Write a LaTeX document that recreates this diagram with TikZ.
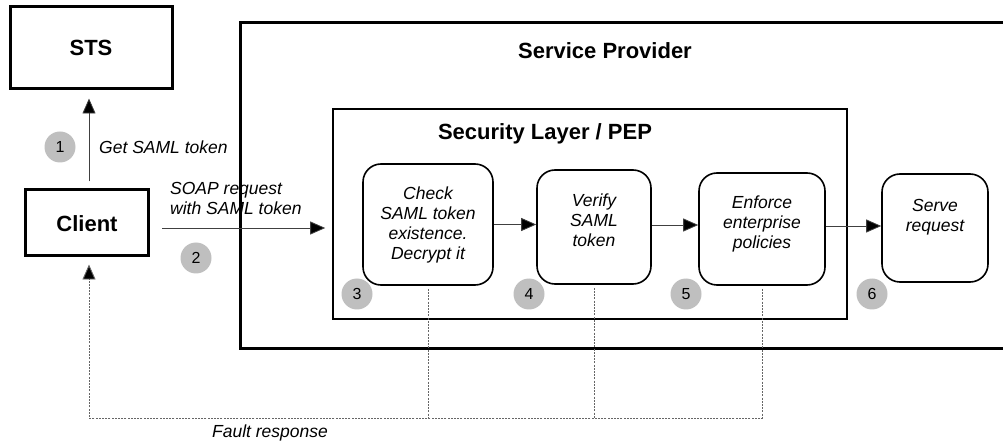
\documentclass[tikz,border=0pt]{standalone}
\usepackage{fontspec}
\setmainfont{Liberation Sans}
\usetikzlibrary{arrows.meta,calc}
\tikzset{
  thickbox/.style={draw,line width=3pt,inner sep=0pt},
  procbox/.style={draw,line width=1.6pt,rounded corners=18pt,inner sep=0pt},
  boldlbl/.style={font=\fontsize{22}{26}\selectfont\bfseries,inner sep=0pt},
  itlbl/.style={font=\fontsize{17.5}{20}\selectfont\itshape,inner sep=0pt,align=center},
  numc/.style={circle,fill=black!25,minimum size=31pt,inner sep=0pt,font=\fontsize{16}{20}\selectfont},
  arr/.style={draw=black!75,line width=0.8pt,-{Triangle[length=15pt,width=13pt,fill=black]}},
  fault/.style={draw=black!60,line width=0.9pt,dash pattern=on 2pt off 1.2pt},
}
\begin{document}
\begin{tikzpicture}[x=1pt,y=-1pt]
\useasboundingbox (0,0) rectangle (1003,443);
\clip (0,0) rectangle (1003,443);
% outer boxes
\node[thickbox,minimum width=162pt,minimum height=82pt] (sts) at (91,48) {};
\node[boldlbl] (ststxt) at (91,48) {STS};
\node[thickbox,minimum width=123pt,minimum height=66pt] (client) at (86.5,223) {};
\node[boldlbl] (clienttxt) at (87,224) {Client};
\node[thickbox,minimum width=780pt,minimum height=326pt] (sp) at (630,185.5) {};
\node[boldlbl] (sptxt) at (605,51) {Service Provider};
\node[draw,line width=1.6pt,minimum width=514pt,minimum height=210pt,inner sep=0pt] (sec) at (590,214) {};
\node[boldlbl] (sectxt) at (545,134) {Security Layer / PEP};
% process boxes
\node[procbox,minimum width=130pt,minimum height=121pt] (b3) at (428,224.5) {};
\node[procbox,minimum width=114pt,minimum height=114pt] (b4) at (594,227) {};
\node[procbox,minimum width=126pt,minimum height=112pt] (b5) at (762,229) {};
\node[procbox,minimum width=106pt,minimum height=108pt] (b6) at (935,228) {};
\node[itlbl,anchor=north] (t3) at ($(b3.north)+(0,23)$) {Check\\SAML token\\existence.\\Decrypt it};
\node[itlbl,anchor=north] (t4) at ($(b4.north)+(0,24)$) {Verify\\SAML\\token};
\node[itlbl,anchor=north] (t5) at ($(b5.north)+(0,23)$) {Enforce\\enterprise\\policies};
\node[itlbl,anchor=north] (t6) at ($(b6.north)+(0,26)$) {Serve\\request};
% numbers
\node[numc] (n1) at (60,147) {1};
\node[numc] (n2) at (196,258) {2};
\node[numc] (n3) at (357,294) {3};
\node[numc] (n4) at (529,294) {4};
\node[numc] (n5) at (686,294) {5};
\node[numc] (n6) at (872,294) {6};
% labels
\node[itlbl,anchor=west] (l1) at (99,147) {Get SAML token};
\node[itlbl,anchor=west,align=left] (l2) at (170,198) {SOAP request\\with SAML token};
\node[itlbl] (l3) at (270,433) {Fault response};
% connectors
\coordinate (arrx) at (89,0);
\coordinate (soap) at (162,228);
\coordinate (floor) at (0,418);
\draw[arr] ($(client.north -| arrx)+(0,-7)$) -- ($(sts.south -| arrx)+(0,8)$);
\draw[arr] (soap) -- ($(sec.west |- soap)+(-7,0)$);
\draw[arr] (b3.east) -- (b4.west |- b3.east);
\draw[arr] ($(b4.east)+(0,-2)$) -- ($(b5.west |- b4.east)+(0,-2)$);
\draw[arr] ($(b5.east)+(0,-3)$) -- ($(b6.west |- b5.east)+(0,-3)$);
\draw[fault] ($(b3.south)+(0,3)$) -- (b3.south |- floor);
\draw[fault] ($(b4.south)+(0,3)$) -- (b4.south |- floor);
\draw[fault,-{Triangle[length=15pt,width=13pt,fill=black]}] ($(b5.south)+(0,3)$) -- (b5.south |- floor) -- (floor -| arrx) -- ($(client.south -| arrx)+(0,7)$);
\end{tikzpicture}
\end{document}
